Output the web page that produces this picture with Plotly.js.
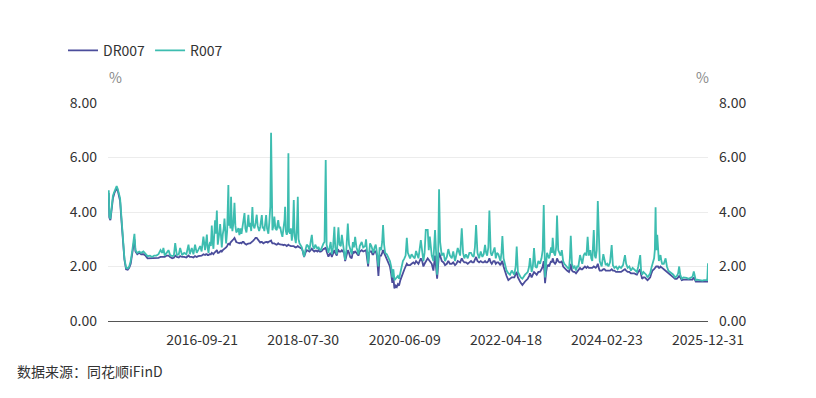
<!DOCTYPE html>
<html><head><meta charset="utf-8">
<script src="https://cdn.plot.ly/plotly-3.0.1.min.js"></script>
<style>html,body{margin:0;padding:0;background:#fff;}#chart{width:816px;height:398px;}</style>
</head><body><div id="chart"></div>
<script>
// ---- Readings (per year) ----
const d2015 = ["2015-01-05","2015-01-09","2015-01-16","2015-01-23","2015-02-02","2015-02-12","2015-02-27","2015-03-06","2015-03-13","2015-03-22",
"2015-03-31","2015-04-10","2015-04-20","2015-05-01","2015-05-12","2015-05-22","2015-06-01","2015-06-12","2015-06-26","2015-07-03",
"2015-07-15","2015-07-28","2015-08-10","2015-08-25","2015-09-08","2015-09-22","2015-10-08","2015-10-22","2015-11-05","2015-11-20",
"2015-12-04","2015-12-18","2015-12-30"];
const dr2015 = [4.70,3.80,3.70,4.00,4.50,4.70,4.85,4.80,4.60,4.40,
3.70,2.90,2.25,1.90,1.88,1.95,2.10,2.50,3.00,2.55,
2.45,2.50,2.45,2.45,2.40,2.30,2.30,2.30,2.30,2.30,
2.32,2.35,2.35];
const r2015 = [4.80,3.85,3.75,4.10,4.60,4.75,4.95,4.85,4.70,4.50,
3.80,3.00,2.30,1.95,1.93,2.00,2.20,2.60,3.20,2.60,
2.50,2.55,2.50,2.55,2.45,2.38,2.40,2.35,2.40,2.40,
2.45,2.60,2.50];

const d2016 = ["2016-01-06","2016-01-15","2016-01-28","2016-02-09","2016-02-20","2016-03-05","2016-03-16","2016-03-25","2016-04-05","2016-04-18",
"2016-04-27","2016-05-10","2016-05-24","2016-06-08","2016-06-22","2016-07-01","2016-07-14","2016-07-25","2016-08-05","2016-08-16",
"2016-08-26","2016-09-08","2016-09-18","2016-09-30","2016-10-11","2016-10-18","2016-10-23","2016-10-28","2016-11-03","2016-11-09",
"2016-11-14","2016-11-19","2016-11-25","2016-11-30","2016-12-06","2016-12-12","2016-12-17","2016-12-22","2016-12-29"];
const dr2016 = [2.35,2.35,2.40,2.40,2.35,2.30,2.32,2.40,2.35,2.33,
2.38,2.35,2.35,2.33,2.40,2.35,2.35,2.33,2.38,2.35,
2.38,2.40,2.40,2.45,2.42,2.45,2.45,2.42,2.42,2.45,
2.45,2.45,2.50,2.48,2.45,2.50,2.55,2.55,2.60];
const r2016 = [2.68,2.40,2.50,2.60,2.42,2.38,2.40,2.86,2.42,2.45,
2.68,2.42,2.50,2.45,2.80,2.45,2.68,2.45,2.80,2.50,
2.60,2.75,2.55,3.10,2.60,2.90,3.17,2.70,2.50,2.80,
2.90,2.75,3.50,2.95,2.65,3.20,3.70,3.20,4.05];

const d2017 = ["2017-01-04","2017-01-10","2017-01-16","2017-01-20","2017-01-26","2017-01-31","2017-02-07","2017-02-13","2017-02-18","2017-02-23",
"2017-03-01","2017-03-08","2017-03-16","2017-03-20","2017-03-26","2017-03-30","2017-04-03","2017-04-08","2017-04-12","2017-04-19",
"2017-04-26","2017-05-02","2017-05-08","2017-05-15","2017-05-22","2017-05-29","2017-06-05","2017-06-12","2017-06-19","2017-06-26",
"2017-07-02","2017-07-08","2017-07-15","2017-07-22","2017-07-28","2017-08-03","2017-08-09","2017-08-16","2017-08-24","2017-08-30",
"2017-09-07","2017-09-14","2017-09-22","2017-09-28","2017-10-08","2017-10-15","2017-10-20","2017-10-26","2017-11-01","2017-11-06",
"2017-11-12","2017-11-18","2017-11-24","2017-11-30","2017-12-05","2017-12-09","2017-12-15","2017-12-22","2017-12-27","2017-12-31"];
const dr2017 = [2.50,2.50,2.55,2.55,2.58,2.55,2.60,2.62,2.65,2.65,
2.70,2.75,2.85,2.82,2.80,2.88,2.90,2.92,2.95,3.00,
3.05,2.95,2.90,2.88,2.85,2.85,2.87,2.85,2.90,2.90,
2.85,2.82,2.80,2.83,2.85,2.85,2.85,2.88,2.90,2.95,
3.00,3.05,3.05,3.00,2.90,2.88,2.90,2.90,2.87,2.85,
2.88,2.90,2.90,2.90,2.88,2.90,2.92,2.95,2.95,2.90];
const r2017 = [2.80,3.00,3.30,3.56,3.10,2.70,3.20,3.40,3.76,3.10,
2.85,3.30,4.99,3.50,3.70,3.40,4.56,3.60,3.30,3.60,
4.34,3.50,3.25,3.30,3.41,3.15,3.40,3.20,3.55,3.70,
3.96,3.40,3.25,3.55,3.90,3.45,3.60,3.30,4.18,3.50,
3.40,3.60,3.90,3.50,3.30,3.45,3.60,3.89,3.40,3.46,
3.30,3.60,3.89,3.40,3.30,3.20,3.60,4.20,6.91,3.50];

const d2018 = ["2018-01-05","2018-01-12","2018-01-18","2018-01-25","2018-02-03","2018-02-08","2018-02-13","2018-02-20","2018-02-26","2018-03-05",
"2018-03-13","2018-03-20","2018-03-27","2018-03-31","2018-04-05","2018-04-11","2018-04-17","2018-04-22","2018-04-26","2018-05-03",
"2018-05-09","2018-05-15","2018-05-22","2018-05-28","2018-06-03","2018-06-11","2018-06-18","2018-06-24","2018-06-29","2018-07-05",
"2018-07-13","2018-07-21","2018-07-28","2018-08-05","2018-08-14","2018-08-23","2018-09-01","2018-09-10","2018-09-18","2018-09-26",
"2018-10-03","2018-10-12","2018-10-19","2018-10-26","2018-11-02","2018-11-09","2018-11-17","2018-11-25","2018-12-04","2018-12-13",
"2018-12-20","2018-12-28"];
const dr2018 = [2.85,2.85,2.85,2.82,2.80,2.82,2.85,2.82,2.80,2.80,
2.80,2.78,2.80,2.80,2.78,2.75,2.78,2.80,2.78,2.75,
2.75,2.75,2.75,2.75,2.72,2.70,2.72,2.75,2.72,2.70,
2.68,2.65,2.55,2.35,2.50,2.60,2.58,2.55,2.60,2.65,
2.60,2.55,2.58,2.58,2.55,2.60,2.55,2.55,2.58,2.65,
2.65,2.70];
const r2018 = [3.33,3.50,3.83,3.40,3.33,3.55,3.70,3.40,3.46,3.25,
3.09,3.40,3.70,4.19,3.30,3.16,3.30,6.16,3.30,3.20,
3.40,2.95,3.30,4.44,3.10,2.86,3.40,4.56,3.00,2.86,
2.80,2.70,2.55,2.36,2.60,2.80,2.75,2.60,2.90,3.16,
2.75,2.65,2.80,2.70,2.65,2.72,2.62,2.60,2.75,2.85,
2.90,5.91];

const d2019 = ["2019-01-03","2019-01-09","2019-01-15","2019-01-23","2019-01-30","2019-02-07","2019-02-15","2019-02-24","2019-03-02","2019-03-12",
"2019-03-18","2019-03-23","2019-03-30","2019-04-08","2019-04-15","2019-04-22","2019-04-30","2019-05-07","2019-05-15","2019-05-25",
"2019-06-02","2019-06-10","2019-06-20","2019-06-28","2019-07-05","2019-07-13","2019-07-22","2019-08-04","2019-08-13","2019-08-26",
"2019-09-05","2019-09-18","2019-09-24","2019-10-08","2019-10-14","2019-10-21","2019-10-30","2019-11-06","2019-11-12","2019-11-20",
"2019-11-28","2019-12-06","2019-12-16","2019-12-24"];
const dr2019 = [2.55,2.40,2.36,2.45,2.50,2.35,2.45,2.60,2.50,2.40,
2.55,2.60,2.55,2.55,2.60,2.55,2.50,2.20,2.35,2.60,
2.50,2.35,2.30,2.55,2.50,2.55,2.50,2.40,2.55,2.60,
2.55,2.60,2.60,2.00,2.50,2.55,2.55,2.45,2.45,2.55,
2.55,2.40,1.65,2.40];
const r2019 = [2.80,2.55,2.50,2.70,2.90,2.45,2.70,3.46,2.70,2.45,
2.90,3.44,2.80,2.75,3.16,2.85,2.70,2.24,2.60,3.58,
2.80,2.60,2.45,2.90,2.70,3.09,2.70,2.45,2.75,2.90,
2.70,2.75,3.00,2.10,2.65,2.85,2.75,2.55,2.50,2.70,
2.80,2.50,2.00,2.70];

const d2020 = ["2020-01-03","2020-01-10","2020-01-16","2020-01-23","2020-01-30","2020-02-10","2020-02-21","2020-03-02","2020-03-10","2020-03-18",
"2020-03-25","2020-04-01","2020-04-09","2020-04-17","2020-04-24","2020-05-02","2020-05-11","2020-05-20","2020-05-28","2020-06-07",
"2020-06-15","2020-06-23","2020-06-30","2020-07-15","2020-07-25","2020-08-06","2020-08-15","2020-08-24","2020-09-09","2020-09-25",
"2020-10-04","2020-10-12","2020-10-20","2020-10-28","2020-11-10","2020-11-17","2020-11-24","2020-12-01","2020-12-07","2020-12-18",
"2020-12-29"];
const dr2020 = [2.40,2.50,2.60,2.50,2.40,2.30,2.15,2.00,1.75,1.40,
1.60,1.20,1.30,1.25,1.35,1.30,1.50,1.65,1.80,1.90,
2.00,2.10,2.05,2.05,2.10,2.15,2.10,2.20,2.10,2.30,
2.20,2.00,2.10,2.20,2.30,2.25,2.20,2.15,2.10,1.85,
2.40];
const r2020 = [2.60,2.90,3.52,2.80,2.50,2.45,2.30,2.20,2.00,1.60,
1.90,1.50,1.55,1.60,1.65,1.55,1.80,2.10,2.20,2.30,
2.40,3.05,2.50,2.30,2.45,2.35,2.30,2.57,2.30,2.97,
2.60,2.20,2.50,3.34,3.34,2.60,3.10,2.70,2.40,2.20,
3.34];

const d2021 = ["2021-01-12","2021-01-19","2021-01-25","2021-02-01","2021-02-12","2021-02-24","2021-03-06","2021-03-18","2021-03-28","2021-04-08",
"2021-04-20","2021-04-30","2021-05-12","2021-05-21","2021-05-30","2021-06-15","2021-06-26","2021-07-05","2021-07-13","2021-07-24",
"2021-08-05","2021-08-16","2021-08-27","2021-09-05","2021-09-14","2021-09-22","2021-09-30","2021-10-09","2021-10-20","2021-10-31",
"2021-11-11","2021-11-20","2021-11-29","2021-12-06","2021-12-13","2021-12-21","2021-12-28"];
const dr2021 = [1.55,2.00,2.50,2.40,2.20,2.15,2.05,2.10,2.20,2.10,
2.10,2.15,2.05,2.10,2.20,2.15,2.30,2.20,2.15,2.15,
2.10,2.15,2.20,2.15,2.15,2.25,2.35,2.20,2.15,2.20,
2.15,2.15,2.20,2.15,2.15,2.20,2.30];
const r2021 = [1.70,2.40,4.83,2.90,2.40,2.50,2.20,2.35,2.64,2.40,
2.30,2.55,2.20,2.40,2.68,2.40,3.40,2.50,2.30,2.45,
2.30,2.50,2.50,2.40,2.35,2.70,3.52,2.50,2.30,2.55,
2.35,2.45,2.79,2.50,2.40,2.70,4.05];

const d2022 = ["2022-01-06","2022-01-13","2022-01-24","2022-02-01","2022-02-09","2022-02-17","2022-02-26","2022-03-05","2022-03-12","2022-03-19",
"2022-03-25","2022-04-02","2022-04-12","2022-04-22","2022-05-04","2022-05-15","2022-05-27","2022-06-13","2022-06-22","2022-06-29",
"2022-07-07","2022-07-15","2022-07-26","2022-08-06","2022-08-15","2022-08-24","2022-09-02","2022-09-11","2022-09-20","2022-09-26",
"2022-10-07","2022-10-15","2022-10-23","2022-11-01","2022-11-10","2022-11-21","2022-12-02","2022-12-12","2022-12-20","2022-12-27"];
const dr2022 = [2.15,2.10,2.20,2.20,2.10,2.15,2.15,2.10,2.05,2.15,
2.20,2.00,1.80,1.65,1.50,1.55,1.60,1.60,1.70,1.80,
1.60,1.50,1.40,1.32,1.40,1.45,1.50,1.55,1.65,1.75,
1.60,1.70,1.80,1.75,1.70,1.80,1.80,1.90,2.00,2.20];
const r2022 = [2.50,2.40,2.57,2.70,2.30,2.50,2.45,2.35,2.20,2.50,
3.12,2.30,2.00,1.85,1.75,1.70,1.85,1.70,2.00,2.73,
1.80,1.70,1.60,1.55,1.65,1.70,1.75,1.80,2.00,2.31,
1.80,2.00,2.68,2.00,1.95,2.20,2.10,2.30,2.60,4.26];

const d2023 = ["2023-01-05","2023-01-12","2023-01-18","2023-01-25","2023-02-01","2023-02-07","2023-02-14","2023-02-20","2023-02-25","2023-03-05",
"2023-03-13","2023-03-20","2023-03-26","2023-04-03","2023-04-11","2023-04-19","2023-04-27","2023-05-06","2023-05-14","2023-05-23",
"2023-06-01","2023-06-14","2023-06-20","2023-06-26","2023-07-04","2023-07-13","2023-07-22","2023-07-31","2023-08-08","2023-08-16",
"2023-08-27","2023-09-04","2023-09-11","2023-09-20","2023-09-29","2023-10-09","2023-10-17","2023-10-25","2023-11-04","2023-11-10",
"2023-11-17","2023-11-27","2023-12-04","2023-12-10","2023-12-17","2023-12-24"];
const dr2023 = [1.39,1.80,2.00,2.05,2.00,2.10,2.20,2.15,2.30,2.15,
2.10,2.15,2.30,2.20,2.15,2.15,2.20,2.00,1.95,1.90,
1.85,1.80,1.90,2.10,1.85,1.80,1.80,1.75,1.80,1.85,
1.95,1.90,1.90,1.95,2.00,1.95,2.00,1.95,1.95,1.95,
1.95,2.00,1.95,1.95,2.00,2.10];
const r2023 = [1.60,2.10,2.50,2.40,2.30,2.45,2.70,2.50,3.05,2.50,
2.40,2.70,3.87,2.60,2.50,2.40,2.60,2.20,2.10,2.05,
2.00,1.90,2.30,3.13,2.10,1.95,2.00,1.85,2.00,2.00,
2.42,2.20,2.10,2.40,2.50,2.40,3.09,2.40,2.60,2.30,
2.20,3.34,2.40,2.30,2.60,4.40];

const d2024 = ["2024-01-02","2024-01-06","2024-01-12","2024-01-19","2024-01-30","2024-02-07","2024-02-15","2024-02-25","2024-03-04","2024-03-15",
"2024-03-26","2024-04-03","2024-04-13","2024-04-24","2024-05-05","2024-05-16","2024-05-28","2024-06-10","2024-06-23","2024-07-01",
"2024-07-11","2024-07-22","2024-08-02","2024-08-13","2024-08-24","2024-09-02","2024-09-11","2024-09-20","2024-09-27","2024-10-03",
"2024-10-09","2024-10-16","2024-10-25","2024-11-03","2024-11-12","2024-11-21","2024-11-30","2024-12-09","2024-12-17","2024-12-24"];
const dr2024 = [1.90,1.85,1.85,1.85,1.90,1.90,1.85,1.85,1.85,1.85,
1.90,1.85,1.85,1.80,1.80,1.80,1.80,1.85,1.90,1.85,
1.80,1.80,1.75,1.75,1.75,1.72,1.70,1.80,1.85,1.90,
1.70,1.55,1.60,1.60,1.55,1.50,1.55,1.60,1.75,1.85];
const r2024 = [2.30,2.20,2.10,2.00,2.45,2.20,2.05,2.10,2.00,2.15,
2.79,2.05,1.95,2.00,1.90,2.00,1.95,2.05,2.42,2.10,
1.95,2.00,1.85,1.95,1.90,1.85,1.80,2.00,2.20,2.42,
1.85,1.70,1.80,1.75,1.70,1.60,1.70,1.75,1.95,2.10];

const d2025 = ["2025-01-04","2025-01-09","2025-01-14","2025-01-18","2025-01-21","2025-01-25","2025-01-30","2025-02-05","2025-02-10","2025-02-16",
"2025-02-22","2025-02-27","2025-03-10","2025-03-22","2025-03-31","2025-04-09","2025-04-20","2025-05-02","2025-05-13","2025-05-24",
"2025-06-05","2025-06-14","2025-06-21","2025-06-28","2025-07-08","2025-07-19","2025-07-30","2025-08-10","2025-08-22","2025-09-01",
"2025-09-09","2025-09-18","2025-09-27","2025-10-05","2025-10-10","2025-10-20","2025-11-02","2025-11-13","2025-11-24","2025-12-04",
"2025-12-12","2025-12-20","2025-12-26","2025-12-31"];
const dr2025 = [1.90,1.95,2.00,2.00,2.00,2.00,2.00,1.95,1.95,2.00,
1.95,1.95,1.90,1.85,1.80,1.75,1.70,1.65,1.60,1.55,
1.55,1.60,1.65,1.60,1.50,1.52,1.52,1.50,1.50,1.50,
1.50,1.52,1.60,1.50,1.45,1.45,1.45,1.45,1.43,1.44,
1.45,1.45,1.45,1.60];
const r2025 = [2.30,2.60,4.17,2.80,2.60,3.16,2.50,2.20,2.30,2.42,
2.20,2.10,2.10,2.30,2.00,1.85,1.80,1.75,1.70,1.60,
1.65,1.75,2.00,1.70,1.55,1.60,1.60,1.58,1.55,1.58,
1.60,1.62,1.82,1.55,1.50,1.52,1.50,1.50,1.48,1.50,
1.50,1.52,1.50,2.12];

const seriesNames = ["DR007", "R007"];
const tickDates = ["2016-09-21","2018-07-30","2020-06-09","2022-04-18","2024-02-23","2025-12-31"];
const yTicks = [0, 2, 4, 6, 8];
const unitLabel = "%";
const sourceText = "数据来源：同花顺iFinD";

// ---- assemble ----
const dates = [].concat(d2015,d2016,d2017,d2018,d2019,d2020,d2021,d2022,d2023,d2024,d2025);
const dr007 = [].concat(dr2015,dr2016,dr2017,dr2018,dr2019,dr2020,dr2021,dr2022,dr2023,dr2024,dr2025);
const r007 = [].concat(r2015,r2016,r2017,r2018,r2019,r2020,r2021,r2022,r2023,r2024,r2025);
if (dates.length !== dr007.length || dates.length !== r007.length) {
  console.error('length mismatch', dates.length, dr007.length, r007.length);
}

const FONT = '"Noto Sans CJK SC", "Noto Sans", sans-serif';
const traces = [
  {x: dates, y: dr007, name: seriesNames[0], type: 'scatter', mode: 'lines',
   line: {color: '#4b4d9b', width: 1.8}, yaxis: 'y'},
  {x: dates, y: r007, name: seriesNames[1], type: 'scatter', mode: 'lines',
   line: {color: '#3dbdb0', width: 1.8}, yaxis: 'y2'}
];
const yCommon = {
  range: [0, 8], tickvals: yTicks, tickformat: '.2f', fixedrange: true,
  showline: false, zeroline: false, ticks: '', ticklabelstandoff: 10,
  tickfont: {family: FONT, size: 14, color: '#333'}
};
const layout = {
  width: 816, height: 398,
  margin: {l: 108, r: 108, t: 103, b: 77, pad: 0},
  paper_bgcolor: '#fff', plot_bgcolor: '#fff',
  showlegend: true,
  legend: {orientation: 'h', x: -0.075, xanchor: 'left', y: 1.24, yanchor: 'middle',
           font: {family: FONT, size: 14, color: '#333'}, itemwidth: 30, tracegroupgap: 0},
  xaxis: {type: 'date', range: ['2014-12-31', '2025-12-31'], tickvals: tickDates, ticktext: tickDates,
          showgrid: false, zeroline: false, showline: true, linecolor: '#555', linewidth: 1, ticks: '',
          ticklabelstandoff: 6,
          tickfont: {family: FONT, size: 14, color: '#333'}, fixedrange: true},
  yaxis: Object.assign({}, yCommon, {side: 'left', showgrid: true, gridcolor: '#ececec', gridwidth: 1}),
  yaxis2: Object.assign({}, yCommon, {side: 'right', overlaying: 'y', showgrid: false}),
  annotations: [
    {text: unitLabel, xref: 'paper', yref: 'paper', x: 0.012, y: 1.12, xanchor: 'center', yanchor: 'middle',
     showarrow: false, font: {family: FONT, size: 14, color: '#888'}},
    {text: unitLabel, xref: 'paper', yref: 'paper', x: 0.99, y: 1.12, xanchor: 'center', yanchor: 'middle',
     showarrow: false, font: {family: FONT, size: 14, color: '#888'}},
    {text: sourceText, xref: 'paper', yref: 'paper', x: -0.155, y: -0.23, xanchor: 'left', yanchor: 'middle',
     showarrow: false, font: {family: FONT, size: 14, color: '#333'}}
  ]
};
Plotly.newPlot('chart', traces, layout, {displayModeBar: false, staticPlot: true});
</script></body></html>
